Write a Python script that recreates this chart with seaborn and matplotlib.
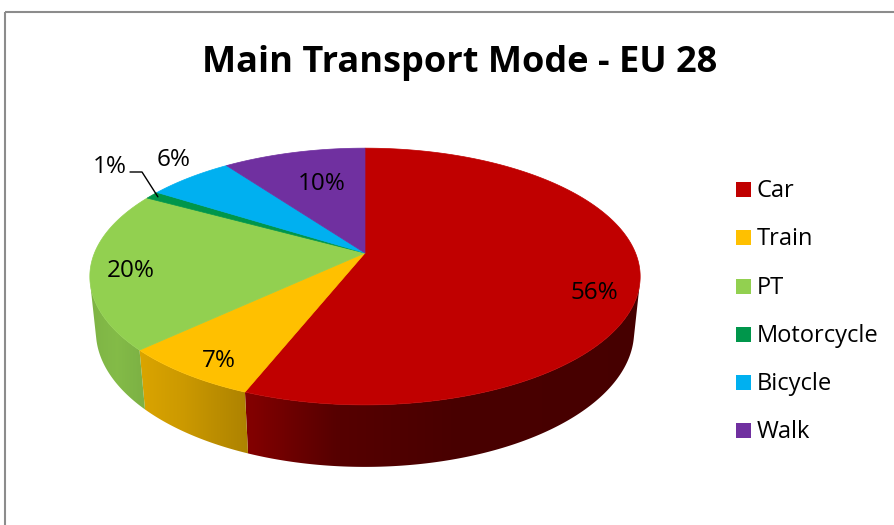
import numpy as np
import matplotlib.pyplot as plt
from matplotlib.patches import Polygon, Rectangle
import seaborn as sns

# data
modes = ["Car", "Train", "PT", "Motorcycle", "Bicycle", "Walk"]
shares = [56, 7, 20, 1, 6, 10]
pct_labels = ["56%", "7%", "20%", "1%", "6%", "10%"]

palette = sns.color_palette(["#C00000", "#FFC000", "#92D050", "#00964B", "#00B0F0", "#7030A0"])

# label anchors (pixel layout, baseline)
label_xy = [(594, 299), (219, 367), (131, 277), (110, 173), (174, 166), (322, 190)]

sns.set_theme(style="white")
plt.rcParams["font.family"] = ["Open Sans", "DejaVu Sans"]

# perspective camera for the 3D pie
CX, CY = 365, 253
F, L = 1312.0, 4.85
ELEV = np.radians(27.3)
H = 0.23


def project(theta, y, r=1.0):
    """Project a point of the disc (angle theta, height y) to pixel coords."""
    X = r * np.cos(theta)
    Z = -r * np.sin(theta)
    depth = L - y * np.sin(ELEV) - Z * np.cos(ELEV)
    up = y * np.cos(ELEV) - Z * np.sin(ELEV)
    return CX + F * X / depth, CY - F * up / depth


def side_shade(theta):
    deg = np.degrees(theta) % 360
    return np.interp(deg, [180, 193, 215, 235, 250, 265, 285, 360],
                     [0.82, 0.85, 0.9, 0.8, 0.67, 0.45, 0.38, 0.36])


fig = plt.figure(figsize=(8.95, 5.25), dpi=100)
ax = fig.add_axes([0, 0, 1, 1])

total = float(sum(shares))
cum = np.concatenate([[0], np.cumsum(shares)]) / total
starts = np.pi / 2 - 2 * np.pi * cum[:-1]
ends = np.pi / 2 - 2 * np.pi * cum[1:]
vis_limit = -1.0 / (L * np.cos(ELEV))

# side walls: gradient image clipped to each visible wall
for s, e, col in zip(starts, ends, palette):
    th = np.linspace(s, e, 400)
    th = th[np.sin(th) < vis_limit]
    if len(th) < 2:
        continue
    tx, ty = project(th, 0)
    bx, by = project(th, -H)
    poly = Polygon(list(zip(tx, ty)) + list(zip(bx[::-1], by[::-1])), closed=True,
                   fc="none", ec="none")
    ax.add_patch(poly)
    order = np.argsort(tx)
    gx = np.linspace(min(tx.min(), bx.min()) - 2, max(tx.max(), bx.max()) + 2, 300)
    shade = np.interp(gx, tx[order], side_shade(th)[order])
    img = np.clip(np.array(col)[None, None, :] * shade[None, :, None], 0, 1)
    im = ax.imshow(img, extent=(gx[0], gx[-1], by.max() + 2, ty.min() - 2),
                   aspect="auto", interpolation="bilinear", zorder=1)
    im.set_clip_path(poly)

# top faces
apex = project(0.0, 0, r=0.0)
for s, e, col in zip(starts, ends, palette):
    n = max(int(np.degrees(s - e) * 2), 2)
    th = np.linspace(s, e, n + 1)
    xs, ys = project(th, 0)
    pts = [apex] + list(zip(xs, ys))
    ax.add_patch(Polygon(pts, closed=True, fc=col, ec=col, lw=0.5, zorder=2))

# data labels
for txt, (x, y) in zip(pct_labels, label_xy):
    ax.text(x, y, txt, ha="center", va="baseline", fontsize=17.5, color="black", zorder=4)

# leader line for the 1% slice
mid_moto = 0.5 * (starts[3] + ends[3])
lx, ly = project(mid_moto, 0, r=0.97)
ax.plot([130, 142, lx], [172, 172, ly], color="black", lw=1.0, zorder=4)

# title
ax.text(459.5, 71.7, "Main Transport Mode - EU 28", ha="center", va="baseline",
        fontsize=26, fontweight="bold", color="black")

# legend
for i, (mode, col) in enumerate(zip(modes, palette)):
    yc = 189.5 + i * 48.26
    ax.add_patch(Rectangle((736, yc - 7.5), 15, 15, fc=col, ec="none"))
    ax.text(757, yc + 7.5, mode, ha="left", va="baseline", fontsize=17, color="black")

# chart border
ax.add_patch(Rectangle((5.5, 11.5), 1000, 1000, fill=False, ec="#8c8c8c", lw=1.5))

ax.set_xlim(0, 895)
ax.set_ylim(525, 0)
ax.axis("off")

fig.savefig("out.png", dpi=100)
